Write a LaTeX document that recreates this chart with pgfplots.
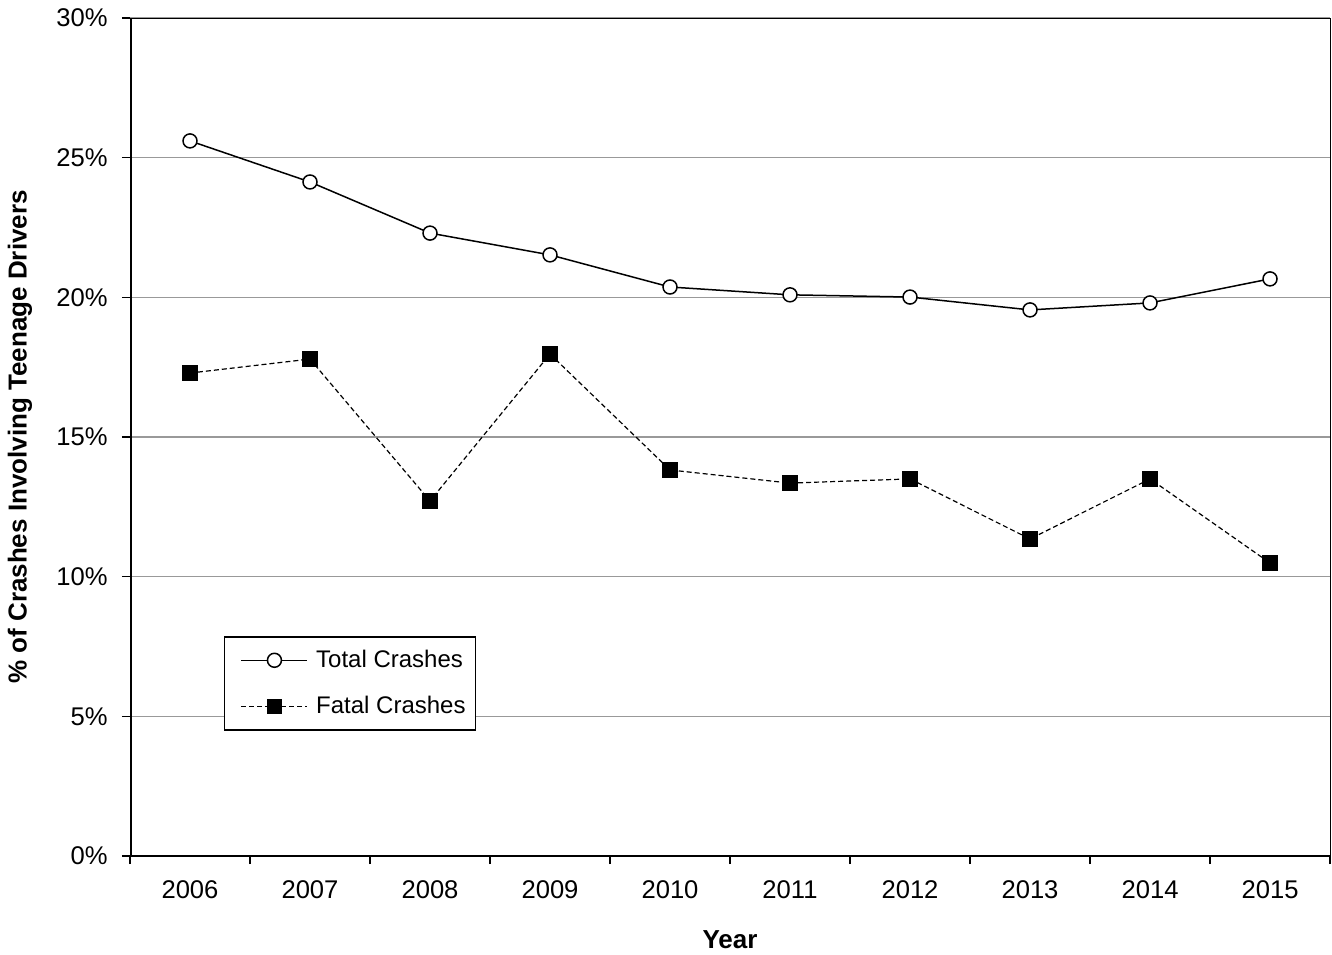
\documentclass[border=0pt]{standalone}
\usepackage{pgfplots}
\pgfplotsset{compat=1.18}
\usepackage{fontspec}
\setmainfont{Liberation Sans}
\begin{document}
\fontsize{12pt}{14pt}\selectfont
\begin{tikzpicture}
\useasboundingbox (-65pt,-49pt) rectangle (601pt,428pt);
\begin{axis}[
  scale only axis,
  width=600pt, height=419pt,
  xmin=-0.5, xmax=9.5,
  ymin=0, ymax=30,
  xtick={-0.5,0.5,...,9.5},
  xticklabels={2006,2007,2008,2009,2010,2011,2012,2013,2014,2015},
  x tick label as interval=true,
  ytick={0,5,10,15,20,25,30},
  yticklabels={0\%,5\%,10\%,15\%,20\%,25\%,30\%},
  xtick pos=bottom, ytick pos=left,
  tick align=outside,
  major tick length=4pt,
  every tick/.style={black, line width=0.75pt},
  ymajorgrids,
  grid style={gray!80, line width=0.75pt},
  axis line style={black, line width=0.5pt},
  tick label style={font=\fontsize{12.8pt}{15pt}\selectfont},
  yticklabel style={xshift=-3pt},
  xticklabel style={yshift=-4pt},
  xlabel={\textbf{Year}},
  ylabel={\textbf{\% of Crashes Involving Teenage Drivers}},
  label style={font=\fontsize{13pt}{15pt}\selectfont},
  xlabel style={at={(axis description cs:0.5,-0.1002)}, anchor=center},
  ylabel style={at={(axis description cs:-0.0917,0.5)}, anchor=center},
  legend style={at={(0.0783,0.2625)}, anchor=north west, draw=black, line width=0.75pt,
    font=\fontsize{12pt}{14pt}\selectfont, row sep=8.5pt, column sep=2pt,
    inner xsep=3pt, inner ysep=4.5pt},
  legend cell align=left,
  legend image code/.code={\path (0pt,0pt); \draw[mark repeat=2, mark phase=2, #1] plot coordinates {(5pt,0pt) (21.5pt,0pt) (38pt,0pt)};},
]
\draw[black, line width=1.5pt] (rel axis cs:0,1) -- (rel axis cs:0,0) -- (rel axis cs:1,0);
\addplot[black, line width=0.75pt, mark=*, mark size=3.5pt,
  mark options={solid, fill=white, draw=black, line width=0.75pt}]
  coordinates {(0,25.6) (1,24.13) (2,22.3) (3,21.52) (4,20.37) (5,20.09) (6,20.01) (7,19.55) (8,19.8) (9,20.66)};
\addlegendentry{Total Crashes}
\addplot[black, line width=0.6pt, dash pattern=on 2.5pt off 1.5pt, mark=square*, mark size=3.5pt,
  mark options={solid, fill=black, draw=black}]
  coordinates {(0,17.29) (1,17.79) (2,12.71) (3,17.97) (4,13.82) (5,13.35) (6,13.5) (7,11.35) (8,13.5) (9,10.49)};
\addlegendentry{Fatal Crashes}
\end{axis}
\end{tikzpicture}
\end{document}
